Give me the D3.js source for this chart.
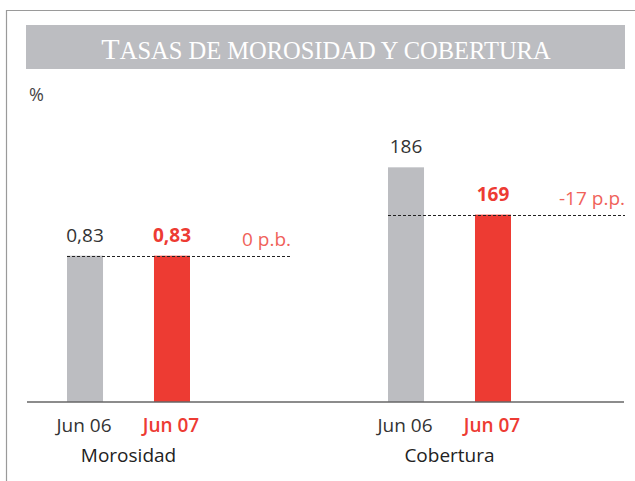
<!DOCTYPE html>
<html>
<head>
<meta charset="utf-8">
<script src="https://cdn.jsdelivr.net/npm/d3@7"></script>
<style>
  body { margin: 0; background: #fff; }
  text { font-family: "Open Sans", "Noto Sans", sans-serif; }
</style>
</head>
<body>
<svg id="chart" width="635" height="481"></svg>
<script>
// ---- data ----
const groups = ["Morosidad", "Cobertura"];
const periods = ["Jun 06", "Jun 07"];
const morosidad = [0.83, 0.83];
const cobertura = [186, 169];
const valueLabels = [["0,83", "0,83"], ["186", "169"]];
const deltaLabels = ["0 p.b.", "-17 p.p."];
const titleCap = "T";
const titleRest = "ASAS DE MOROSIDAD Y COBERTURA";
const unitLabel = "%";

const grey = "#bcbdc1", red = "#ed3b33", deltaRed = "#f0625a", ink = "#333";

const svg = d3.select("#chart");

// frame
svg.append("path")
  .attr("d", "M6.5,481 V10.5 H635")
  .attr("fill", "none").attr("stroke", "#9a9a9a").attr("stroke-width", 1.2);

// title banner
svg.append("rect").attr("x", 26).attr("y", 25).attr("width", 599).attr("height", 44).attr("fill", grey);
const title = svg.append("text")
  .attr("x", 326).attr("y", 58.5).attr("text-anchor", "middle")
  .style("font-family", "'Liberation Serif', 'DejaVu Serif', serif")
  .attr("fill", "#fff");
title.append("tspan").attr("font-size", 30).text(titleCap);
title.append("tspan").attr("font-size", 24.5).text(titleRest);

svg.append("text").attr("x", 29).attr("y", 101).attr("font-size", 18)
  .attr("fill", "#444").text(unitLabel);

// scales
const baseY = 402, topY = 120;
const x0 = d3.scaleBand().domain(groups).range([27, 669]);
const x1 = d3.scaleBand().domain(periods).range([40, 163]).paddingInner(0.586);
const yScales = {
  Morosidad: d3.scaleLinear().domain([0, 1.6]).range([baseY, topY]),
  Cobertura: d3.scaleLinear().domain([101.7, 203]).range([baseY, topY])
};
const series = { Morosidad: morosidad, Cobertura: cobertura };
const dashEnd = { Morosidad: 264, Cobertura: 277 };

groups.forEach((gName, gi) => {
  const g = svg.append("g").attr("transform", `translate(${x0(gName)},0)`);
  const y = yScales[gName];
  const vals = series[gName];

  g.selectAll("rect.bar").data(vals).join("rect")
    .attr("class", "bar")
    .attr("x", (d, i) => x1(periods[i]))
    .attr("y", d => y(d))
    .attr("width", x1.bandwidth())
    .attr("height", d => baseY - y(d))
    .attr("fill", (d, i) => i === 0 ? grey : red);

  g.selectAll("text.val").data(vals).join("text")
    .attr("class", "val")
    .attr("x", (d, i) => x1(periods[i]) + x1.bandwidth() / 2)
    .attr("y", d => y(d) - 14)
    .attr("text-anchor", "middle")
    .attr("font-size", 19)
    .attr("font-weight", (d, i) => i === 0 ? 400 : 700)
    .attr("fill", (d, i) => i === 0 ? ink : red)
    .text((d, i) => valueLabels[gi][i]);

  // reference line at latest value
  const dy = Math.round(y(vals[1])) + 0.5;
  g.append("line")
    .attr("x1", x1(periods[0])).attr("x2", dashEnd[gName])
    .attr("y1", dy).attr("y2", dy)
    .attr("stroke", "#222").attr("stroke-width", 1)
    .attr("stroke-dasharray", "3,2");
  g.append("text")
    .attr("x", dashEnd[gName]).attr("y", dy - 11)
    .attr("text-anchor", "end").attr("font-size", 19)
    .attr("fill", deltaRed).text(deltaLabels[gi]);

  // period ticks
  g.selectAll("text.tick").data(periods).join("text")
    .attr("class", "tick")
    .attr("x", p => x1(p) + x1.bandwidth() / 2 - 1)
    .attr("y", 432)
    .attr("text-anchor", "middle")
    .attr("font-size", 19)
    .attr("font-weight", (p, i) => i === 0 ? 400 : 600)
    .attr("fill", (p, i) => i === 0 ? ink : red)
    .text(p => p);

  g.append("text")
    .attr("x", (x1(periods[0]) + x1(periods[1]) + x1.bandwidth()) / 2)
    .attr("y", 462)
    .attr("text-anchor", "middle").attr("font-size", 19).attr("fill", "#222")
    .text(gName);
});

// baseline
svg.append("line")
  .attr("x1", 27).attr("x2", 624).attr("y1", baseY).attr("y2", baseY)
  .attr("stroke", "#666").attr("stroke-width", 1.6);
</script>
</body>
</html>
